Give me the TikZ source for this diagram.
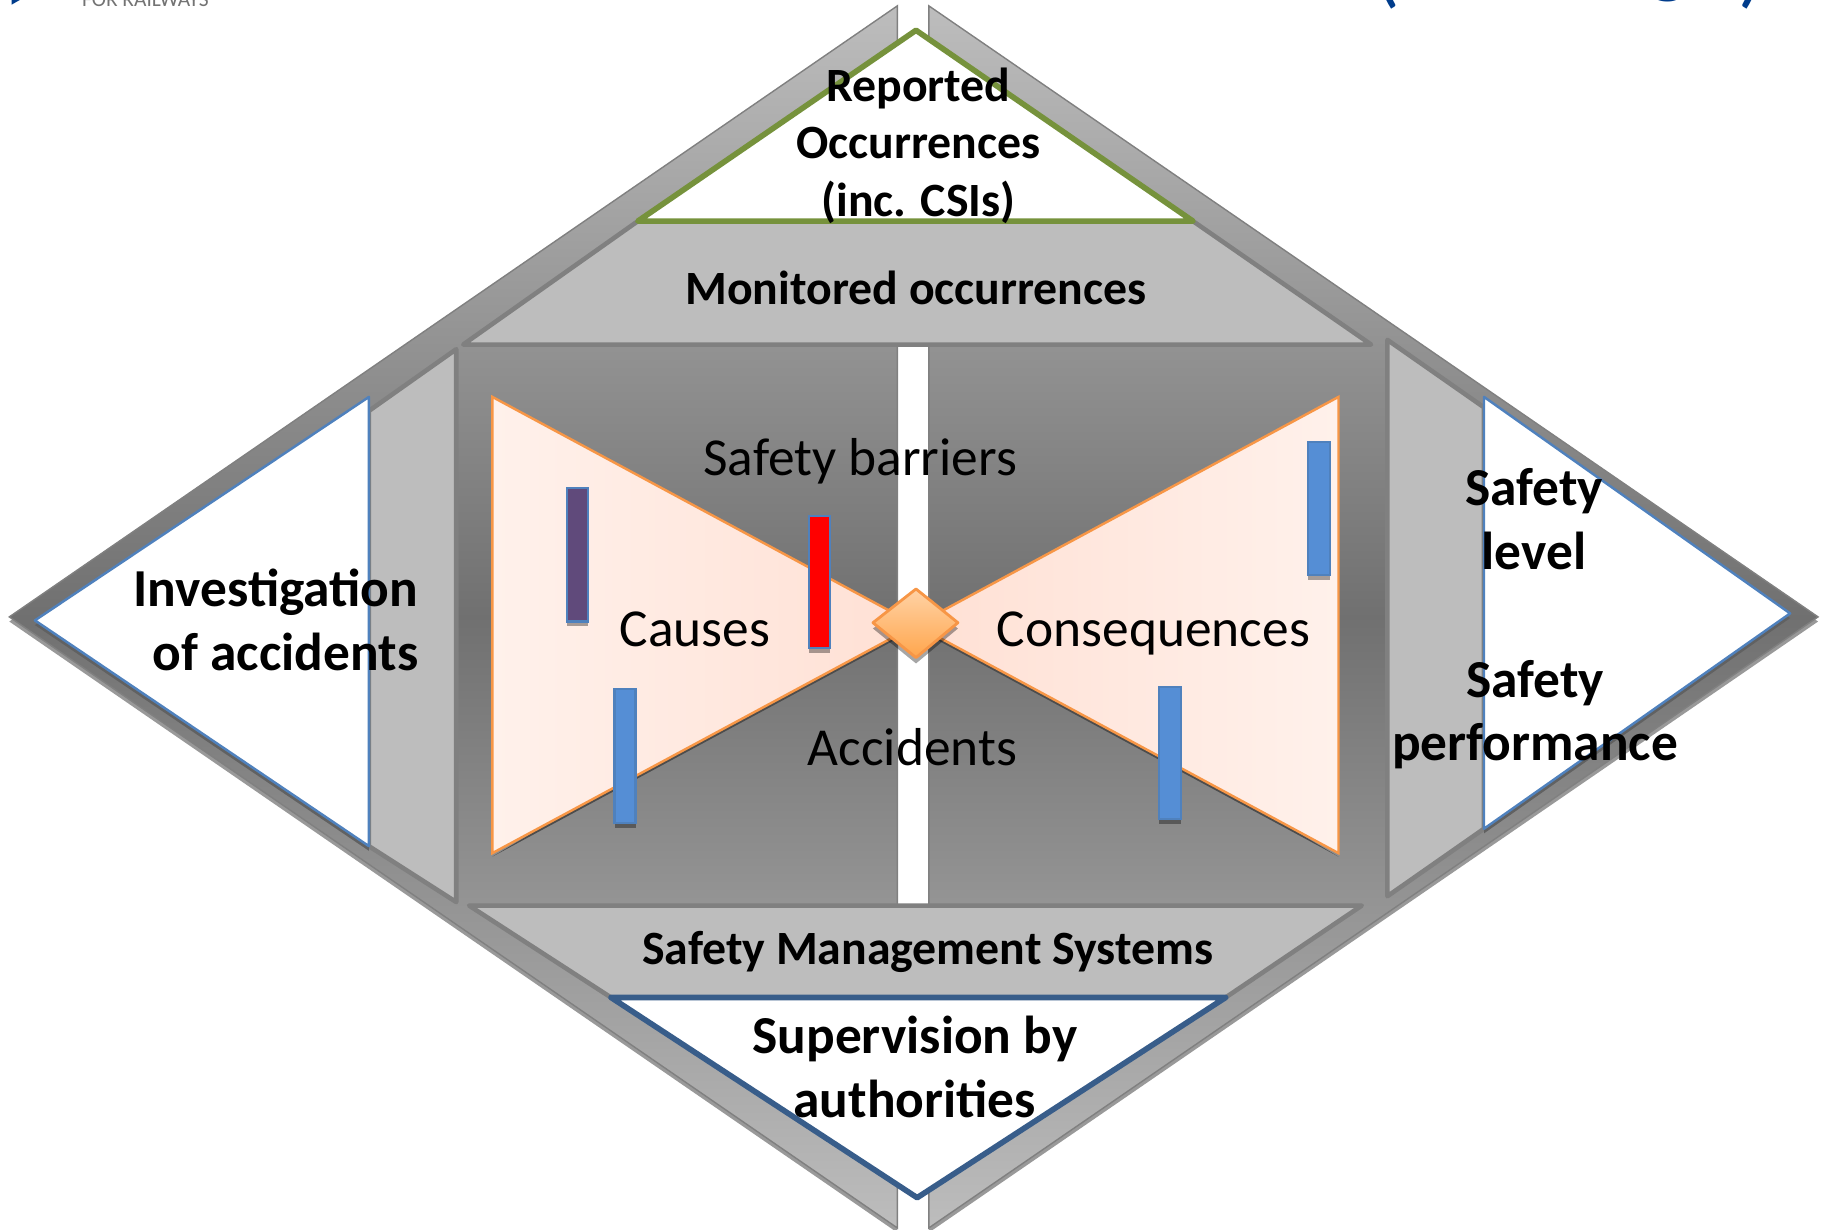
\documentclass[tikz,border=0pt]{standalone}
\usepackage{fontspec}
\setmainfont{Carlito}
\usepackage{color}
\definecolor{d4panel}{RGB}{189,189,189}
\definecolor{d4edge}{RGB}{128,128,128}
\definecolor{d4green}{RGB}{118,146,60}
\definecolor{d4navy}{RGB}{56,93,138}
\definecolor{d4blue}{RGB}{79,129,189}
\definecolor{d4bar}{RGB}{85,142,213}
\definecolor{d4purple}{RGB}{96,74,123}
\definecolor{d4orange}{RGB}{247,150,70}
\definecolor{d4title}{RGB}{0,60,140}
\definecolor{d4pale}{RGB}{255,241,235}
\definecolor{d4pink}{RGB}{255,224,212}
\tikzset{
  halfshade/.style={draw=d4edge, top color=d4panel, bottom color=d4panel, middle color=black!56},
  trapbox/.style={draw=d4edge, line width=1.3pt, line join=round, fill=d4panel},
  whitetri/.style={fill=white, line join=round},
  triback/.style={fill=black!62},
  barbox/.style={draw=d4blue, line width=0.6pt},
  barback/.style={fill=black, opacity=0.35},
  boldtext/.style={font=\bfseries\fontsize{15.2}{18.2}\selectfont, align=center, inner sep=0pt},
  smalltext/.style={font=\bfseries\fontsize{13.6}{16.4}\selectfont, align=center, inner sep=0pt},
  plaintext/.style={font=\fontsize{15.2}{18}\selectfont, inner sep=0pt},
  headtext/.style={font=\fontsize{24}{28}\selectfont, text=d4title, inner sep=0pt}
}

\begin{document}
\begin{tikzpicture}[x=0.011639cm, y=-0.011639cm]
  \useasboundingbox (0,0) rectangle (1568,1056);
  % page head, cut off by the crop
  \node[font=\fontsize{6.1}{8}\selectfont, text=black!55, anchor=west, inner sep=0pt] (railways) %
    at (70,0) {FOR RAILWAYS};
  \fill[d4title] (10,0) -- (17,0) -- (10,4) -- cycle;
  \node[headtext] (headopen) at (1192,-24) {(};
  \node[headtext] (headg) at (1433,-22) {g};
  \node[headtext] (headclose) at (1505,-24) {)};
  % the two halves of the large diamond
  \fill[black!40] (771,9) -- (8,534) -- (771,1059) -- cycle;
  \fill[black!40] (798,9) -- (1562,534) -- (798,1059) -- cycle;
  \shade[halfshade] (771,5) -- (8,530) -- (771,1055) -- cycle;
  \shade[halfshade] (798,5) -- (1562,530) -- (798,1055) -- cycle;
  % grey bands
  \draw[trapbox] (548,190) -- (1025,190) -- (1178,296) -- (398,296) -- cycle;
  \draw[trapbox] (403,778) -- (1170,778) -- (1053,857) -- (525,857) -- cycle;
  \draw[trapbox] (317,353) -- (392,300) -- (392,775) -- (317,727) -- cycle;
  \draw[trapbox] (1275,350) -- (1192,292) -- (1192,770) -- (1275,712) -- cycle;
  % white triangles
  \fill[triback] (317,346) -- (30,537) -- (317,731) -- cycle;
  \fill[triback] (1275,346) -- (1538,531) -- (1275,716) -- cycle;
  \draw[whitetri, draw=d4blue, line width=0.7pt] (317,341) -- (30,533) -- (317,727) -- cycle;
  \draw[whitetri, draw=d4blue, line width=0.7pt] (1275,341) -- (1538,527) -- (1275,712) -- cycle;
  \draw[whitetri, draw=d4green, line width=1.6pt] (787,26) -- (548,190) -- (1025,190) -- cycle;
  \draw[whitetri, draw=d4navy, line width=1.6pt] (525,857) -- (1053,857) -- (788,1029) -- cycle;
  % bow-tie
  \fill[black!70] (423,736) -- (787,540) -- (1150,736) -- (787,520) -- cycle;
  \draw[d4orange, line width=0.7pt, left color=d4pale, right color=d4pink] %
    (423,341) -- (787,537) -- (423,733) -- cycle;
  \draw[d4orange, line width=0.7pt, left color=d4pink, right color=d4pale] %
    (1150,341) -- (787,537) -- (1150,733) -- cycle;
  % barriers
  \fill[barback] (487,423) rectangle (505,538);
  \fill[barback] (695,447) rectangle (713,561);
  \fill[barback] (528,596) rectangle (546,711);
  \fill[barback] (1124,384) rectangle (1143,498);
  \fill[barback] (996,594) rectangle (1015,708);
  \draw[barbox, fill=d4purple] (487,419) rectangle (505,534);
  \draw[barbox, fill=red] (695,443) rectangle (713,557);
  \draw[barbox, fill=d4bar] (528,592) rectangle (546,707);
  \draw[barbox, fill=d4bar] (1124,380) rectangle (1143,494);
  \draw[barbox, fill=d4bar] (996,590) rectangle (1015,704);
  % centre event
  \fill[black, opacity=0.35] (750,540) -- (787,511) -- (823,540) -- (787,570) -- cycle;
  \draw[d4orange, line width=0.8pt, line join=round, top color=orange!35!white, bottom color=orange!70!white] %
    (750,535) -- (787,506) -- (823,535) -- (787,565) -- cycle;
  % labels
  \node[smalltext] (reported) at (789,125) {Reported\\Occurrences\\(inc. CSIs)};
  \node[smalltext] (monitored) at (787,247) {Monitored occurrences};
  \node[smalltext] (sms) at (797,818) {Safety Management Systems};
  \node[boldtext] (supervision) at (786,917) {Supervision by\\authorities};
  \node[boldtext, align=right, anchor=east] (investigation) at (360,533) {Investigation\\of accidents};
  \node[boldtext] (level) at (1318,446) {Safety\\level};
  \node[boldtext] (performance) at (1319,614) {Safety\\performance};
  \node[plaintext] (barriers) at (739,396) {Safety barriers};
  \node[plaintext] (causes) at (597,541) {Causes};
  \node[plaintext] (consequences) at (991,544) {Consequences};
  \node[plaintext] (accidents) at (784,642) {Accidents};
\end{tikzpicture}
\end{document}
